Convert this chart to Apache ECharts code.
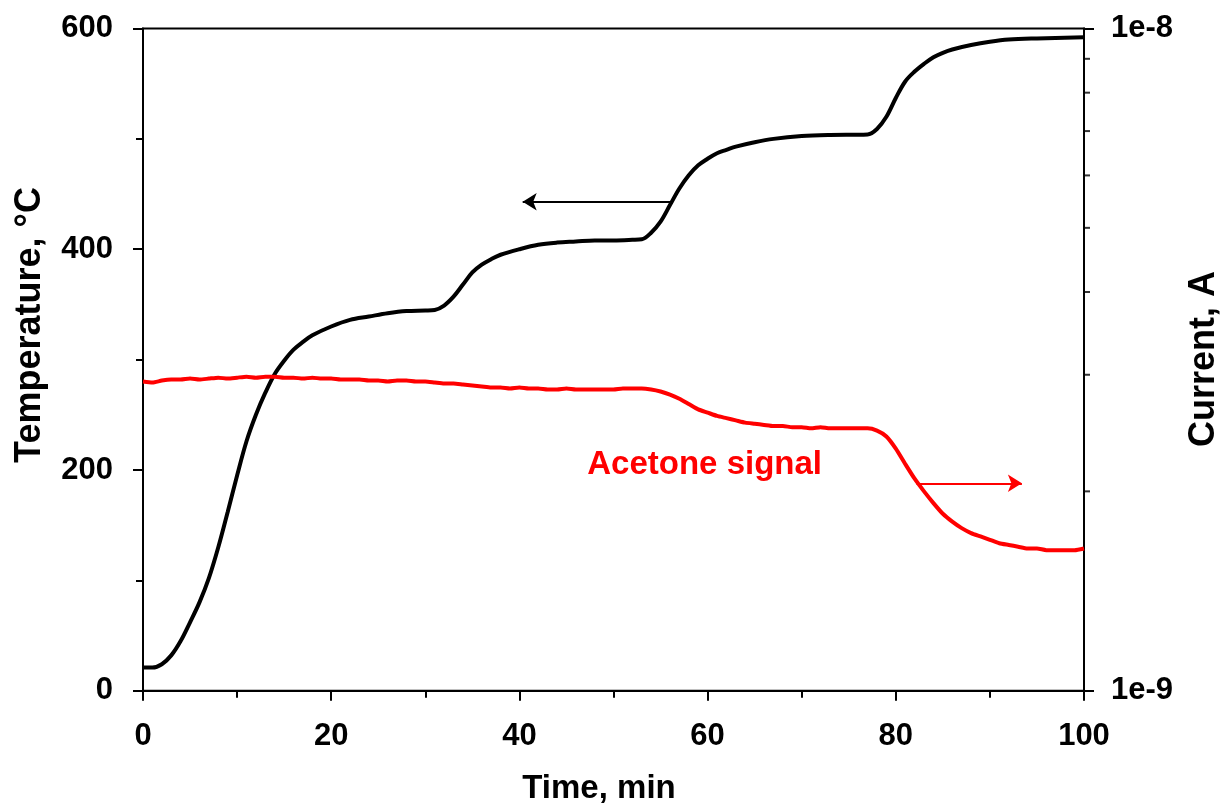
<!DOCTYPE html>
<html>
<head>
<meta charset="utf-8">
<script src="https://cdn.jsdelivr.net/npm/echarts@6/dist/echarts.min.js"></script>
<style>
html,body{margin:0;padding:0;background:#fff;}
#chart{width:1225px;height:809px;}
</style>
</head>
<body>
<div id="chart"></div>
<script>
// Temperature (°C) vs time (min), left axis
var tempTime = [0,1,2,3,4,5,6,7,8,9,10,11,12,13,14,15,16,17,18,20,22,24,26,28,30,31,32,33,34,35,36,37,38,40,42,44,46,48,50,52,53,54,55,56,57,58,59,60,61,62,63,65,67,70,73,77,78,79,80,81,82,83,84,85,86,88,90,92,95,100];
var tempValue = [21,21,24,32,45,62,80,102,130,162,195,226,250,270,287,299,309,316,322,330,336,339,342,344,344.5,345,349,357,368,379,386,391,395,400,404,406,407,408,408,408.5,409,415,425,440,455,467,476,482,487,490,493,497,500,502.5,503.5,504,509,520,537,552,561,568,574,578,581,585,588,590,591,592];

// Acetone signal current (A) vs time (min), right log axis
var curTime = [0,1,2,3,4,5,6,7,8,9,10,11,12,13,14,15,16,17,18,19,20,21,22,23,24,25,26,27,28,29,30,31,32,33,34,35,36,37,38,39,40,41,42,43,44,45,46,47,48,49,50,51,52,53,54,55,56,57,58,59,60,61,62,63,64,65,66,67,68,69,70,71,72,73,74,75,76,77,78,79,80,81,82,83,84,85,86,87,88,89,90,91,92,93,94,95,96,97,98,99,100];
var curValue = [2.93e-9,2.92e-9,2.94e-9,2.95e-9,2.95e-9,2.96e-9,2.95e-9,2.96e-9,2.97e-9,2.96e-9,2.97e-9,2.98e-9,2.97e-9,2.98e-9,2.98e-9,2.97e-9,2.97e-9,2.96e-9,2.97e-9,2.96e-9,2.96e-9,2.95e-9,2.95e-9,2.95e-9,2.94e-9,2.94e-9,2.93e-9,2.94e-9,2.94e-9,2.93e-9,2.93e-9,2.92e-9,2.91e-9,2.91e-9,2.90e-9,2.89e-9,2.88e-9,2.87e-9,2.87e-9,2.86e-9,2.87e-9,2.86e-9,2.86e-9,2.85e-9,2.85e-9,2.86e-9,2.85e-9,2.85e-9,2.85e-9,2.85e-9,2.85e-9,2.86e-9,2.86e-9,2.86e-9,2.85e-9,2.83e-9,2.80e-9,2.76e-9,2.71e-9,2.66e-9,2.63e-9,2.60e-9,2.58e-9,2.56e-9,2.54e-9,2.53e-9,2.52e-9,2.51e-9,2.51e-9,2.50e-9,2.50e-9,2.49e-9,2.50e-9,2.49e-9,2.49e-9,2.49e-9,2.49e-9,2.49e-9,2.47e-9,2.42e-9,2.32e-9,2.20e-9,2.09e-9,2.00e-9,1.92e-9,1.85e-9,1.80e-9,1.76e-9,1.73e-9,1.71e-9,1.69e-9,1.67e-9,1.66e-9,1.65e-9,1.64e-9,1.64e-9,1.63e-9,1.63e-9,1.63e-9,1.63e-9,1.64e-9];

// Right axis minor tick positions (log decade)
var rightMinorTicks = [2e-9,3e-9,4e-9,5e-9,6e-9,7e-9,8e-9,9e-9];
var rightTickLabels = {'1e-9':'1e-9','1e-8':'1e-8'};

var xTitle = 'Time, min';
var yLeftTitle = 'Temperature, °C';
var yRightTitle = 'Current, A';
var seriesLabel = 'Acetone signal';

// arrows (data coordinates)
var blackArrow = [[56.2,443],[40.35,443]];
var redArrow = [[82.2,2.057e-9],[93.4,2.057e-9]];

var FONT = '"Liberation Sans", Arial, sans-serif';

var tempData = tempTime.map(function(t,i){return [t,tempValue[i]];});
var curData = curTime.map(function(t,i){return [t,curValue[i]];});
var tickData = rightMinorTicks.map(function(v){return [100,v];});

var chart = echarts.init(document.getElementById('chart'), null, {renderer:'canvas'});
var labelStyle = {color:'#000', fontFamily:FONT, fontWeight:'bold', fontSize:31};
chart.setOption({
  animation:false,
  backgroundColor:'#fff',
  grid:{left:143, right:141, top:28.5, bottom:118.3, show:true, borderColor:'#000', borderWidth:2, backgroundColor:'transparent'},
  xAxis:{
    type:'value', min:0, max:100, interval:20,
    axisLine:{show:true, onZero:false, lineStyle:{color:'#000', width:2}},
    axisTick:{show:true, inside:false, length:10, lineStyle:{color:'#000', width:2}},
    minorTick:{show:true, splitNumber:2, length:7, lineStyle:{color:'#000', width:2}},
    splitLine:{show:false},
    axisLabel:Object.assign({margin:30}, labelStyle)
  },
  yAxis:[{
    type:'value', min:0, max:600, interval:200, position:'left',
    axisLine:{show:true, lineStyle:{color:'#000', width:2}},
    axisTick:{show:true, inside:false, length:10, lineStyle:{color:'#000', width:2}},
    minorTick:{show:true, splitNumber:2, length:7, lineStyle:{color:'#000', width:2}},
    splitLine:{show:false},
    axisLabel:Object.assign({margin:30}, labelStyle)
  },{
    type:'log', logBase:10, min:1e-9, max:1e-8, interval:1, splitNumber:1, position:'right',
    axisLine:{show:true, lineStyle:{color:'#000', width:2}},
    axisTick:{show:true, inside:false, length:10, lineStyle:{color:'#000', width:2}},
    splitLine:{show:false},
    axisLabel:Object.assign({margin:27, formatter:function(v){
      var e = Math.round(Math.log10(v));
      return rightTickLabels['1e'+e] || '';
    }}, labelStyle)
  }],
  series:[{
    type:'line', name:'Temperature', yAxisIndex:0, data:tempData, smooth:0.35,
    showSymbol:false, symbol:'none', lineStyle:{color:'#000', width:4}, silent:true,
    markLine:{silent:true, symbol:['none','arrow'], symbolSize:[13,14], label:{show:false},
      lineStyle:{color:'#000', width:2, type:'solid'},
      data:[[{coord:blackArrow[0]},{coord:blackArrow[1]}]]}
  },{
    type:'line', name:'Acetone signal', yAxisIndex:1, data:curData, smooth:0.2,
    showSymbol:false, symbol:'none', lineStyle:{color:'#ff0000', width:4}, silent:true,
    markLine:{silent:true, symbol:['none','arrow'], symbolSize:[13,14], label:{show:false},
      lineStyle:{color:'#ff0000', width:2, type:'solid'},
      data:[[{coord:redArrow[0]},{coord:redArrow[1]}]]}
  },{
    type:'scatter', yAxisIndex:1, data:tickData, symbol:'rect', symbolSize:[6,2],
    symbolOffset:[3,0], itemStyle:{color:'#000'}, clip:false, silent:true
  }],
  graphic:[
    {type:'text', x:599, y:789, style:{text:xTitle, fill:'#000', font:'bold 33px '+FONT, textAlign:'center', textVerticalAlign:'middle'}},
    {type:'text', x:30, y:325, rotation:Math.PI/2, style:{text:yLeftTitle, fill:'#000', font:'bold 36px '+FONT, textAlign:'center', textVerticalAlign:'middle'}},
    {type:'text', x:1204, y:359, rotation:Math.PI/2, style:{text:yRightTitle, fill:'#000', font:'bold 36px '+FONT, textAlign:'center', textVerticalAlign:'middle'}},
    {type:'text', x:822, y:465, style:{text:seriesLabel, fill:'#ff0000', font:'bold 33px '+FONT, textAlign:'right', textVerticalAlign:'middle'}}
  ]
});
</script>
</body>
</html>
